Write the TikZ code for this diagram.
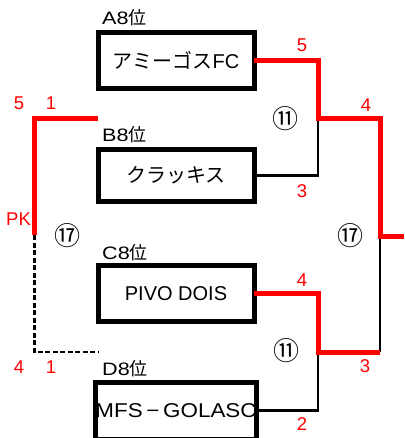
\documentclass[tikz,border=0pt]{standalone}
\usepackage{fontspec}
\setmainfont{Liberation Sans}
\newfontfamily\jpfont{Noto Sans CJK JP}
\newfontfamily\seedfont{Liberation Sans}[FakeStretch=1.2]
\usetikzlibrary{positioning}

\tikzset{
  team/.style={draw=black,line width=5pt,minimum width=156pt,minimum height=56pt,
    inner sep=0pt,outer sep=0pt,font=\fontsize{20}{22}\selectfont},
  seed/.style={anchor=base west,inner sep=0pt,font=\seedfont\fontsize{18}{20}\selectfont},
  score/.style={text=red,inner sep=0pt,font=\fontsize{18.5}{20}\selectfont},
  match/.style={inner sep=0pt,font=\jpfont\fontsize{26}{28}\selectfont},
  win/.style={red,line width=5pt},
  lose/.style={black,line width=2.5pt},
  pkline/.style={black,line width=2.5pt,dash pattern=on 5pt off 2.5pt},
}

\begin{document}
\begin{tikzpicture}[x=1pt,y=-1pt]
  \def \BX {176}
  \def \RA {318}
  \def \RB {380}
  \def \LX {34.5}
  \clip (0,0) rectangle (404,438);

  % teams
  \node[team] (amigos) at (\BX,60.5) {{\jpfont アミーゴス}FC};
  \node[team,minimum height=52pt] (crackis) at (\BX,175.5) {\jpfont クラッキス};
  \node[team] (pivo) at (\BX,293.5) {PIVO DOIS};
  \node[team,minimum height=57pt] (golasc) at (\BX,410.5)
    {\scalebox{1.12}[1]{MFS\,−\,GOLASC}};

  % seeds
  \node[seed] (seedA) at (102,25) {A8{\jpfont 位}};
  \node[seed] (seedB) at (102,142) {B8{\jpfont 位}};
  \node[seed] (seedC) at (102,259) {C8{\jpfont 位}};
  \node[seed] (seedD) at (102,375) {D8{\jpfont 位}};

  % match numbers
  \node[match] (mTop) at (285,119) {⑪};
  \node[match] (mBot) at (286,351) {⑪};
  \node[match] (mFin) at (350,236) {⑰};
  \node[match] (mLeft) at (67,236) {⑰};

  % scores
  \node[score] (sA) at (302,45.5) {5};
  \node[score] (sB) at (302,191.5) {3};
  \node[score] (sAB) at (366,105.5) {4};
  \node[score] (sC) at (302,280) {4};
  \node[score] (sD) at (302,424) {2};
  \node[score] (sCD) at (365,366) {3};
  \node[score] (sLtop) at (19,103.5) {5};
  \node[score] (sLtopb) at (51,103.5) {1};
  \node[score] (sLbot) at (19,367) {4};
  \node[score] (sLbotb) at (51,367) {1};
  \node[score,anchor=west] (pk) at (6,219) {PK};

  % bracket
  \coordinate (semiA) at (\RA,119);
  \coordinate (semiC) at (\RA,352);
  \coordinate (semiCend) at (\RB,352);
  \coordinate (final) at (\RB,236);
  \coordinate (champ) at (404,236);
  \coordinate (pkA) at (98,119);
  \coordinate (pkTop) at (\LX,119);
  \coordinate (pkMid) at (\LX,235);
  \coordinate (pkBot) at (\LX,352);
  \coordinate (pkD) at (98,352);

  \draw[lose] (crackis.east) -| (semiA);
  \draw[lose] (golasc.east) -| (semiC);
  \draw[lose] (semiCend) -- (final);
  \draw[win] (amigos.east) -| (semiA) -| (final) -- (champ);
  \draw[win] (pivo.east) -| (semiC) -- (semiCend);

  \draw[pkline] (pkMid) -- (pkBot) -- (pkD);
  \draw[win] (pkA) -- (pkTop) -- (pkMid);

\end{tikzpicture}
\end{document}
